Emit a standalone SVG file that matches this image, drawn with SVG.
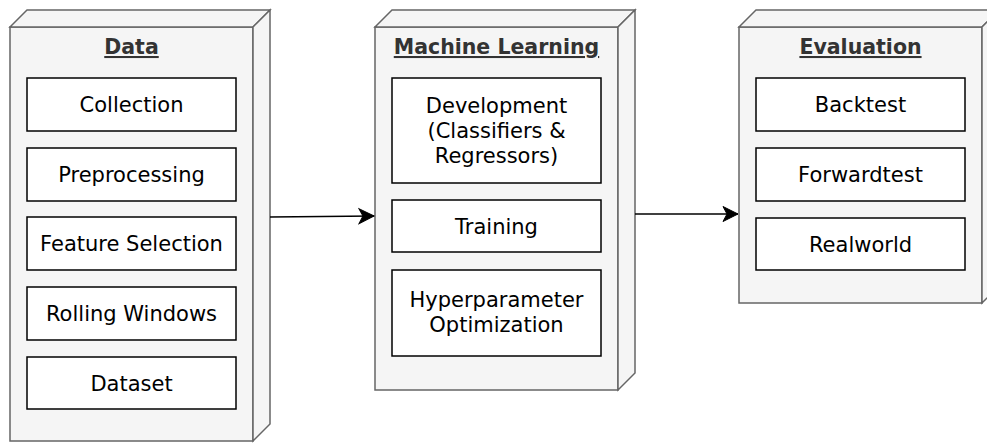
<svg xmlns="http://www.w3.org/2000/svg" width="987" height="443" viewBox="0 0 987 443">
<defs>
<style>
.cube{fill:#f5f5f5;stroke:#666666;stroke-width:1.5;stroke-linejoin:miter}
.box{fill:#ffffff;stroke:#000000;stroke-width:1.5}
.t{font-family:"DejaVu Sans","Verdana",sans-serif;font-size:21px;fill:#000000;text-anchor:middle}
.title{font-family:"DejaVu Sans","Verdana",sans-serif;font-size:20.5px;font-weight:bold;fill:#333333;text-anchor:middle;text-decoration:underline}
.edge{fill:none;stroke:#000000;stroke-width:1.5}
</style>
<marker id="arr" markerUnits="userSpaceOnUse" markerWidth="18" markerHeight="18" viewBox="-16 -9 18 18" refX="0" refY="0" orient="auto">
<path d="M0,0 L-15,-7.5 L-11,0 L-15,7.5 Z" fill="#000000" stroke="#000000" stroke-width="1"/>
</marker>
</defs>
<g id="data">
<path class="cube" d="M10,27 L253,27 L253,441 L10,441 Z"/>
<path class="cube" d="M10,27 L27,10 L270,10 L253,27 Z"/>
<path class="cube" d="M253,27 L270,10 L270,424 L253,441 Z"/>
<text class="title" x="131.5" y="54">Data</text>
<g id="collection"><rect class="box" x="27" y="78" width="209" height="53"/><text class="t" x="131.5" y="112">Collection</text></g>
<g id="preprocessing"><rect class="box" x="27" y="148" width="209" height="53"/><text class="t" x="131.5" y="182">Preprocessing</text></g>
<g id="feature-selection"><rect class="box" x="27" y="217" width="209" height="53"/><text class="t" x="131.5" y="251">Feature Selection</text></g>
<g id="rolling-windows"><rect class="box" x="27" y="287" width="209" height="53"/><text class="t" x="131.5" y="321">Rolling Windows</text></g>
<g id="dataset"><rect class="box" x="27" y="357" width="209" height="52"/><text class="t" x="131.5" y="390.5">Dataset</text></g>
</g>
<g id="ml">
<path class="cube" d="M375,27 L618,27 L618,390 L375,390 Z"/>
<path class="cube" d="M375,27 L392,10 L635,10 L618,27 Z"/>
<path class="cube" d="M618,27 L635,10 L635,373 L618,390 Z"/>
<text class="title" x="496.5" y="54">Machine Learning</text>
<g id="development"><rect class="box" x="392" y="78" width="209" height="105"/><text class="t" x="496.5" y="113">Development</text><text class="t" x="496.5" y="138">(Classifiers &amp;</text><text class="t" x="496.5" y="163">Regressors)</text></g>
<g id="training"><rect class="box" x="392" y="200" width="209" height="52"/><text class="t" x="496.5" y="233.5">Training</text></g>
<g id="hyperparameter"><rect class="box" x="392" y="270" width="209" height="86"/><text class="t" x="496.5" y="307">Hyperparameter</text><text class="t" x="496.5" y="332">Optimization</text></g>
</g>
<g id="evaluation">
<path class="cube" d="M739,27 L982,27 L982,303 L739,303 Z"/>
<path class="cube" d="M739,27 L756,10 L999,10 L982,27 Z"/>
<path class="cube" d="M982,27 L999,10 L999,286 L982,303 Z"/>
<text class="title" x="860.5" y="54">Evaluation</text>
<g id="backtest"><rect class="box" x="756" y="78" width="209" height="53"/><text class="t" x="860.5" y="112">Backtest</text></g>
<g id="forwardtest"><rect class="box" x="756" y="148" width="209" height="53"/><text class="t" x="860.5" y="182">Forwardtest</text></g>
<g id="realworld"><rect class="box" x="756" y="218" width="209" height="52"/><text class="t" x="860.5" y="251.5">Realworld</text></g>
</g>
<g id="connectors">
<path class="edge" d="M270,217 L374,216" marker-end="url(#arr)"/>
<path class="edge" d="M635,214 L738,214" marker-end="url(#arr)"/>
</g>
</svg>
